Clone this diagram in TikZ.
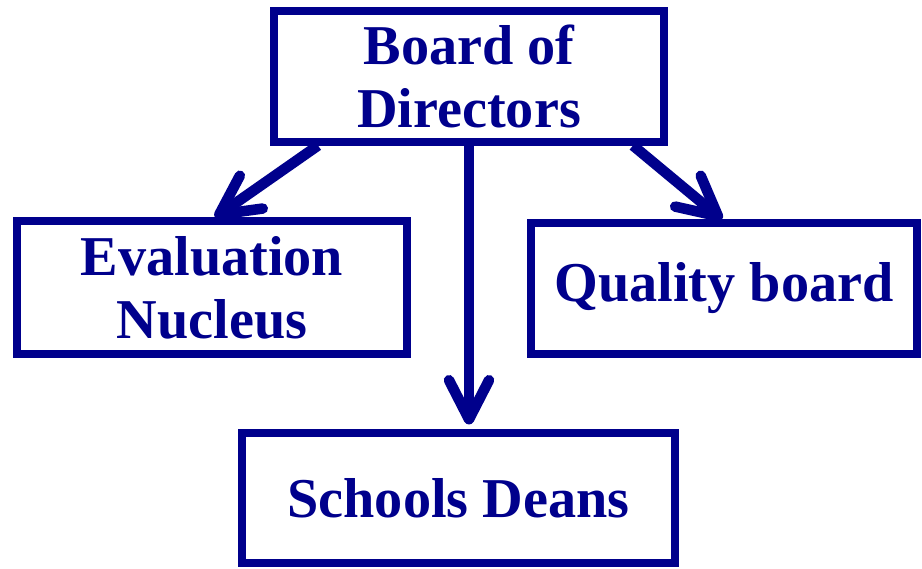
\documentclass[tikz,border=0pt]{standalone}
\usepackage{fontspec}
\setmainfont{Liberation Serif}
\usetikzlibrary{arrows.meta}

\definecolor{navyblue}{RGB}{0,0,140}

\begin{document}
\begin{tikzpicture}[line width=4pt, >={Straight Barb[round,length=0.78cm,width=0.8cm]}]
   \useasboundingbox (0,0) rectangle (18.44,-11.36);
   \begin{scope}[every node/.style={rectangle,draw=navyblue,text=navyblue,align=center,
       font=\fontsize{32}{36}\selectfont\bfseries,inner sep=0pt}]
    \node[minimum width=7.8cm,minimum height=2.62cm] (board) at (9.38,-1.53) {Board of\\Directors};
    \node[minimum width=7.8cm,minimum height=2.66cm] (eval) at (4.24,-5.75) {Evaluation\\Nucleus};
    \node[minimum width=7.72cm,minimum height=2.62cm] (quality) at (14.48,-5.77) {Quality board};
    \node[minimum width=8.66cm,minimum height=2.6cm] (deans) at (9.17,-9.96) {Schools Deans};
   \end{scope}
   \begin{scope}[every edge/.style={draw=navyblue,line width=6pt,->}]
    \draw  ([xshift=-3.02cm]board.south) edge ([xshift=0.06cm]eval.north);
    \draw  (board.south) edge[shorten >=0.1cm] (board.south |- deans.north);
    \draw  ([xshift=3.28cm]board.south) edge ([xshift=-0.04cm]quality.north);
   \end{scope}
\end{tikzpicture}
\end{document}
